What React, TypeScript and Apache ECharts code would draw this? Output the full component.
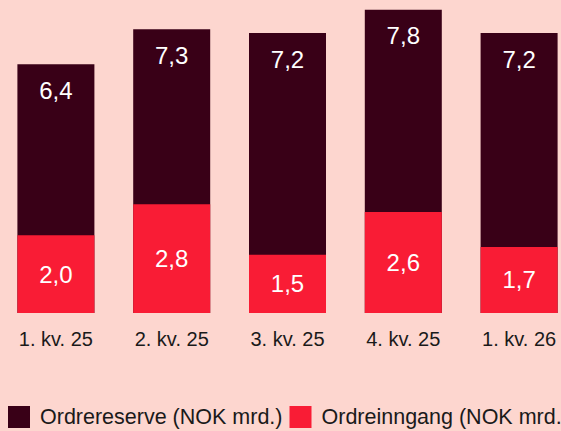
import React, { useEffect, useRef } from "react";
import * as echarts from "echarts";

const categories = ["1. kv. 25", "2. kv. 25", "3. kv. 25", "4. kv. 25", "1. kv. 26"];
const ordrereserve = [6.4, 7.3, 7.2, 7.8, 7.2];
const ordreinngang = [2.0, 2.8, 1.5, 2.6, 1.7];
const seriesNames = ["Ordrereserve (NOK mrd.)", "Ordreinngang (NOK mrd.)"];

const BG = "#FDD6CF";
const DARK = "#390017";
const RED = "#F91C35";
const TEXT = "#1A1A1A";
const FONT = "'Liberation Sans', Arial, sans-serif";

const fmt = (p: any) => Number(p.value).toFixed(1).replace(".", ",");

export default function App() {
  const ref = useRef<HTMLDivElement>(null);
  useEffect(() => {
    if (!ref.current) return;
    const chart = echarts.init(ref.current, undefined, { renderer: "svg" });
    chart.setOption({
      animation: false,
      backgroundColor: BG,
      textStyle: { fontFamily: FONT },
      grid: { left: 0, right: 21, top: 2, bottom: 118 },
      legend: {
        left: 10,
        top: 406,
        padding: 0,
        itemWidth: 22,
        itemHeight: 22,
        itemGap: 7,
        icon: "rect",
        data: seriesNames,
        textStyle: { fontSize: 21.5, color: TEXT, fontFamily: FONT, padding: [0, 0, 0, 5] },
      },
      xAxis: {
        type: "category",
        data: categories,
        axisLine: { show: false },
        axisTick: { show: false },
        axisLabel: { fontSize: 20, color: TEXT, margin: 16, fontFamily: FONT },
      },
      yAxis: { type: "value", min: 0, max: 8, show: false, splitLine: { show: false } },
      series: [
        {
          name: seriesNames[0],
          type: "bar",
          data: ordrereserve,
          barWidth: 77,
          barGap: "-100%",
          itemStyle: { color: DARK },
          label: {
            show: true,
            position: "insideTop",
            distance: 14,
            color: "#FFFFFF",
            fontSize: 24,
            fontFamily: FONT,
            formatter: fmt,
          },
        },
        {
          name: seriesNames[1],
          type: "bar",
          data: ordreinngang,
          barWidth: 77,
          barGap: "-100%",
          itemStyle: { color: RED },
          label: {
            show: true,
            position: "inside",
            color: "#FFFFFF",
            fontSize: 24,
            fontFamily: FONT,
            formatter: fmt,
          },
        },
      ],
    });
    return () => chart.dispose();
  }, []);
  return (
    <div
      style={{
        position: "absolute",
        left: 0,
        top: 0,
        width: 561,
        height: 431,
        overflow: "hidden",
        background: BG,
      }}
    >
      <div ref={ref} style={{ position: "absolute", left: -2, top: 0, width: 600, height: 431 }} />
    </div>
  );
}
